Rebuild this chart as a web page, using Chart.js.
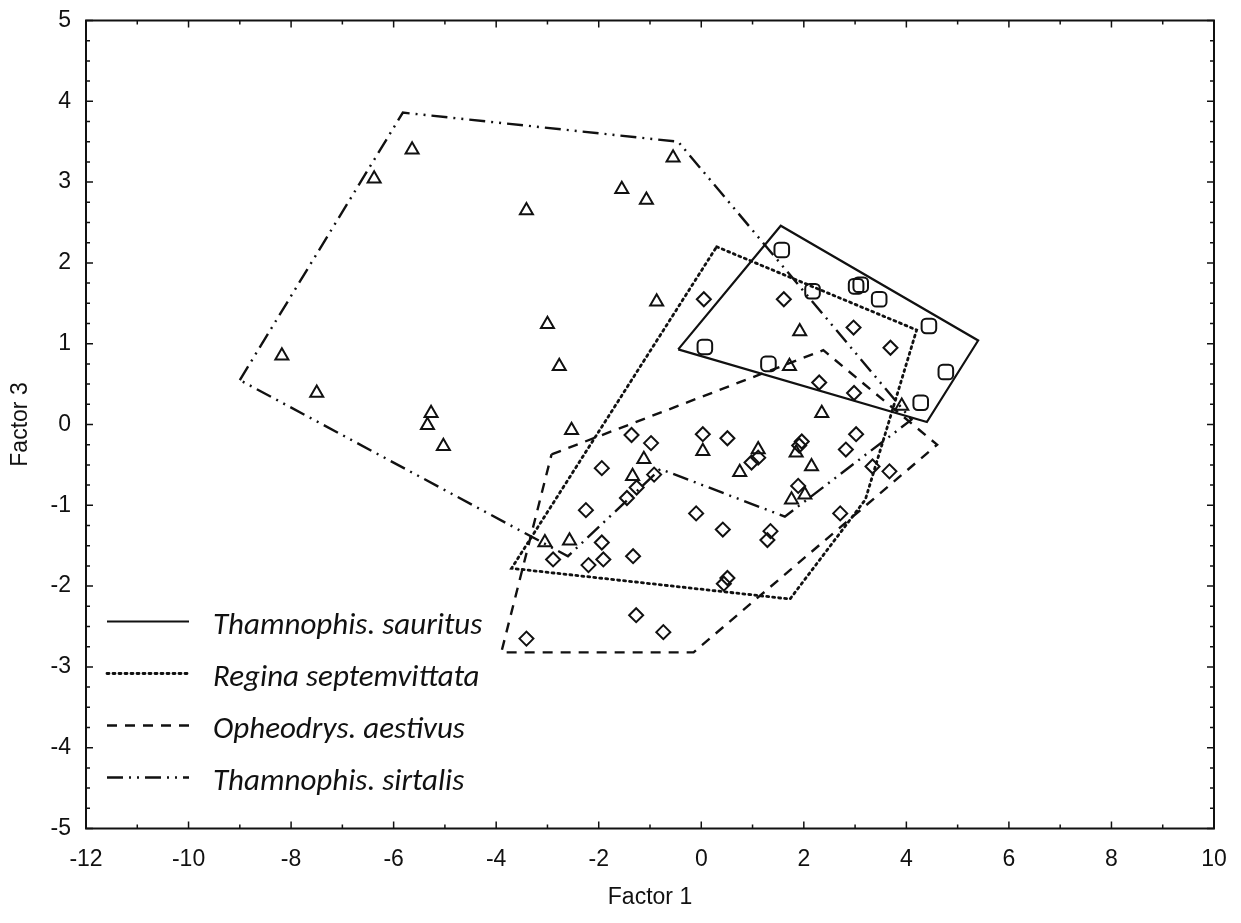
<!DOCTYPE html>
<html lang="en">
<head>
    <meta charset="UTF-8">
    <title>Factor 1 x Factor 3</title>
    <script src="https://cdn.jsdelivr.net/npm/chart.js"></script>
    <style>
        body { margin: 0; background: #fff; }
        canvas { display: block; }
    </style>
</head>
<body>
    <canvas id="grafico" width="1241" height="923"></canvas>
    <script>
        // Ticks dos eixos
        const xTicks = [-12, -10, -8, -6, -4, -2, 0, 2, 4, 6, 8, 10];
        const yTicks = [-5, -4, -3, -2, -1, 0, 1, 2, 3, 4, 5];

        // Nomes das espécies (legenda)
        const especies = ['Thamnophis. sauritus', 'Regina septemvittata', 'Opheodrys. aestivus', 'Thamnophis. sirtalis'];

        // Pontos (Factor 1, Factor 3)
        const sauritusPts = [
            [1.57, 2.16], [2.17, 1.65], [3.02, 1.71], [3.11, 1.73], [3.47, 1.55],
            [4.44, 1.22], [0.07, 0.96], [1.31, 0.75], [4.77, 0.65], [4.28, 0.27]
        ];
        const reginaPts = [
            [0.05, 1.55], [1.61, 1.55], [2.97, 1.20], [3.69, 0.95], [2.30, 0.52],
            [2.98, 0.39], [3.02, -0.12], [2.82, -0.31], [3.34, -0.52], [1.96, -0.21],
            [1.91, -0.26], [1.89, -0.76], [0.03, -0.12], [0.51, -0.17], [0.98, -0.47],
            [1.11, -0.41], [-0.10, -1.10], [0.42, -1.30], [1.35, -1.32], [1.29, -1.43],
            [0.51, -1.90], [0.44, -1.97], [2.71, -1.10]
        ];
        const opheodrysPts = [
            [3.67, -0.58], [-1.36, -0.13], [-0.98, -0.23], [-1.94, -0.54], [-0.92, -0.62],
            [-1.26, -0.78], [-1.45, -0.91], [-2.25, -1.06], [-1.94, -1.46], [-2.89, -1.67],
            [-1.91, -1.67], [-2.20, -1.74], [-1.33, -1.63], [-1.27, -2.36], [-0.74, -2.57],
            [-3.41, -2.65]
        ];
        const sirtalisPts = [
            [-5.64, 3.40], [-6.38, 3.04], [-0.55, 3.30], [-1.55, 2.91], [-1.07, 2.78],
            [-3.41, 2.65], [-0.87, 1.52], [-3.00, 1.24], [-2.77, 0.72], [-8.18, 0.85],
            [-7.50, 0.39], [-5.27, 0.14], [-5.34, -0.01], [-5.03, -0.27], [-2.53, -0.07],
            [-1.12, -0.43], [-1.34, -0.64], [0.03, -0.33], [1.92, 1.15], [1.72, 0.72],
            [2.35, 0.14], [3.91, 0.23], [1.11, -0.31], [1.85, -0.35], [2.15, -0.52],
            [0.75, -0.59], [1.76, -0.93], [2.02, -0.87], [-3.05, -1.46], [-2.57, -1.44]
        ];

        // Contornos (polígonos) de cada espécie
        const sauritusHull = [[-0.45, 0.93], [1.55, 2.46], [5.40, 1.04], [4.40, 0.03]];
        const reginaHull = [[0.30, 2.20], [4.20, 1.17], [3.20, -0.93], [1.73, -2.16], [-3.70, -1.78]];
        const opheodrysHull = [[-2.92, -0.37], [2.38, 0.92], [4.60, -0.25], [-0.15, -2.82], [-3.90, -2.82]];
        const sirtalisHull = [[-9.00, 0.55], [-5.82, 3.86], [-0.45, 3.50], [4.10, 0.06], [1.63, -1.14], [-0.80, -0.55], [-2.60, -1.63]];

        // Estilos de linha
        const tracos = [[], [2, 4], [10, 8], [16, 6, 2, 6, 2, 6]];
        const larguras = [2.2, 2.8, 2.4, 2.4];

        const cor = '#111';

        function pts(lista) {
            return lista.map(p => ({ x: p[0], y: p[1] }));
        }

        function contorno(lista, i) {
            const dados = pts(lista);
            dados.push(dados[0]);
            return {
                label: especies[i],
                data: dados,
                showLine: true,
                borderColor: cor,
                borderWidth: larguras[i],
                borderDash: tracos[i],
                borderCapStyle: i === 1 ? 'round' : 'butt',
                pointRadius: 0,
                fill: false,
                tension: 0
            };
        }

        function marcadores(lista, estilo, raio) {
            return {
                data: pts(lista),
                showLine: false,
                pointStyle: estilo,
                pointRadius: raio,
                pointBorderWidth: 2,
                pointBorderColor: cor,
                pointBackgroundColor: 'rgba(0,0,0,0)'
            };
        }

        // Moldura e ticks internos nos quatro lados
        const molduraPlugin = {
            id: 'moldura',
            afterDatasetsDraw(chart) {
                const { ctx, chartArea: a, scales: { x, y } } = chart;
                ctx.save();
                ctx.strokeStyle = cor;
                ctx.lineWidth = 2;
                ctx.strokeRect(a.left, a.top, a.right - a.left, a.bottom - a.top);
                ctx.lineWidth = 1.5;
                ctx.beginPath();
                for (let v = -12; v <= 10; v += 1) {
                    const px = x.getPixelForValue(v);
                    const len = v % 2 === 0 ? 7 : 4;
                    ctx.moveTo(px, a.bottom); ctx.lineTo(px, a.bottom - len);
                    ctx.moveTo(px, a.top); ctx.lineTo(px, a.top + len);
                }
                for (let v = -5; v <= 5; v += 0.25) {
                    const py = y.getPixelForValue(v);
                    const len = Number.isInteger(v) ? 7 : 4;
                    ctx.moveTo(a.left, py); ctx.lineTo(a.left + len, py);
                    ctx.moveTo(a.right, py); ctx.lineTo(a.right - len, py);
                }
                ctx.stroke();
                ctx.restore();
            }
        };

        // Legenda desenhada dentro da área do gráfico
        const legendaPlugin = {
            id: 'legendaInterna',
            afterDatasetsDraw(chart) {
                const { ctx, chartArea: a } = chart;
                ctx.save();
                ctx.strokeStyle = cor;
                ctx.fillStyle = cor;
                ctx.font = 'italic 31px Carlito, Lato, sans-serif';
                ctx.textBaseline = 'middle';
                especies.forEach((nome, i) => {
                    const ly = a.bottom - 207 + i * 52;
                    ctx.lineWidth = larguras[i];
                    ctx.setLineDash(tracos[i]);
                    ctx.lineCap = i === 1 ? 'round' : 'butt';
                    ctx.beginPath();
                    ctx.moveTo(a.left + 21, ly);
                    ctx.lineTo(a.left + 103, ly);
                    ctx.stroke();
                    ctx.fillText(nome, a.left + 127, ly + 5);
                });
                ctx.restore();
            }
        };

        const fonteEixo = { family: '"Liberation Sans", Arial, sans-serif', size: 23 };

        new Chart(document.getElementById('grafico'), {
            type: 'scatter',
            data: {
                datasets: [
                    contorno(sauritusHull, 0),
                    contorno(reginaHull, 1),
                    contorno(opheodrysHull, 2),
                    contorno(sirtalisHull, 3),
                    marcadores(sirtalisPts, 'triangle', 7.5),
                    marcadores(reginaPts, 'rectRot', 7),
                    marcadores(opheodrysPts, 'rectRot', 7),
                    marcadores(sauritusPts, 'rectRounded', 8.5)
                ]
            },
            options: {
                responsive: false,
                animation: false,
                layout: { padding: { top: 20.5, right: 27, bottom: 0, left: 0 } },
                plugins: {
                    legend: { display: false },
                    tooltip: { enabled: false }
                },
                scales: {
                    x: {
                        type: 'linear',
                        min: -12,
                        max: 10,
                        afterBuildTicks: s => { s.ticks = xTicks.map(v => ({ value: v })); },
                        afterFit: s => { s.height = 94.5; s.paddingLeft = 0; s.paddingRight = 0; },
                        grid: { display: false, drawTicks: false },
                        border: { display: false },
                        ticks: { font: fonteEixo, color: cor, padding: 17, maxRotation: 0, autoSkip: false },
                        title: { display: true, text: 'Factor 1', color: cor, font: fonteEixo, padding: { top: 0, bottom: 12 } }
                    },
                    y: {
                        type: 'linear',
                        min: -5,
                        max: 5,
                        afterBuildTicks: s => { s.ticks = yTicks.map(v => ({ value: v })); },
                        afterFit: s => { s.width = 86; s.paddingTop = 0; s.paddingBottom = 0; },
                        grid: { display: false, drawTicks: false },
                        border: { display: false },
                        ticks: { font: fonteEixo, color: cor, padding: 15, autoSkip: false },
                        title: { display: true, text: 'Factor 3', color: cor, font: fonteEixo, padding: { top: 7, bottom: 0 } }
                    }
                }
            },
            plugins: [molduraPlugin, legendaPlugin]
        });
    </script>
</body>
</html>
